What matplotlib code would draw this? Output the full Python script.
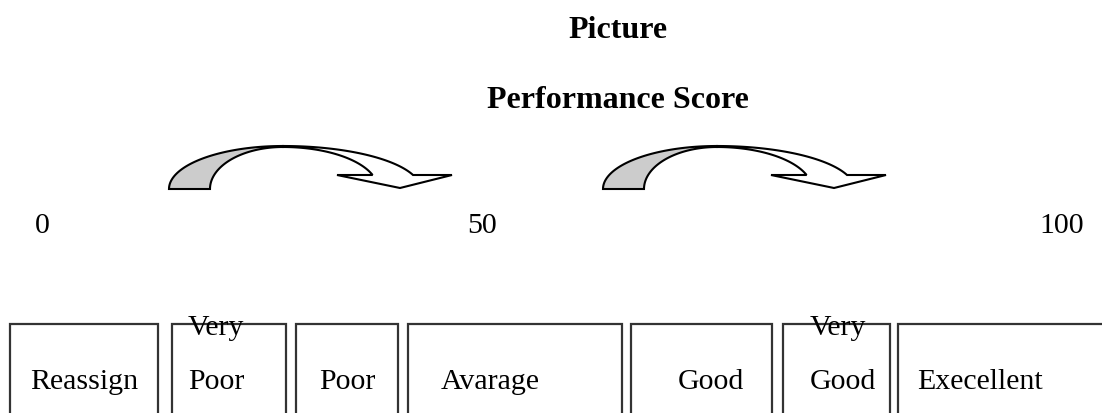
import numpy as np
import matplotlib.pyplot as plt
from matplotlib.patches import Polygon

plt.rcParams['font.family'] = ['Liberation Serif', 'DejaVu Serif']

title = "Picture"
subtitle = "Performance Score"
scale_labels = ["0", "50", "100"]
categories = ["Reassign", "Very Poor", "Poor", "Avarage", "Good", "Very Good", "Execellent"]

# layout (pixels)
scale_x = [42, 482, 1062]
box_edges = [(10, 158), (172, 286), (296, 398), (408, 622), (631, 772), (783, 890), (898, 1110)]
label_x = [84, 188, 347, 490, 711, 810, 980]
arrow_x = [169, 603]


def curved_arrow(ax, x0):
    cx = x0 + 114
    base = 190
    # grey back face
    t = np.linspace(np.pi, np.pi / 2, 60)
    outer = np.c_[cx + 114 * np.cos(t), base - 43 * np.sin(t)]
    inner = np.c_[cx + 73 * np.cos(t[::-1]), base - 42 * np.sin(t[::-1])]
    ax.add_patch(Polygon(np.vstack([outer, inner]), closed=True,
                         facecolor='#cccccc', edgecolor='black', lw=1.5))
    # white front face with head
    th = np.arcsin(14 / 43)
    t1 = np.linspace(np.pi / 2, th, 60)
    outer = np.c_[cx + 137.5 * np.cos(t1), base - 43 * np.sin(t1)]
    th2 = np.arcsin(14 / 42)
    t2 = np.linspace(th2, np.pi / 2, 60)
    inner = np.c_[cx + 95 * np.cos(t2), base - 42 * np.sin(t2)]
    head = np.array([[cx + 169, 176], [cx + 117, 189], [cx + 54, 176]])
    pts = np.vstack([outer, head, inner])
    ax.add_patch(Polygon(pts, closed=True, facecolor='white',
                         edgecolor='black', lw=1.5, joinstyle='miter'))


fig = plt.figure(figsize=(11.02, 4.14), dpi=100)
ax = fig.add_axes([0, 0, 1, 1])
ax.set_xlim(0, 1102)
ax.set_ylim(414, 0)
ax.axis('off')

ax.text(618, 38, title, ha='center', va='baseline', fontsize=23, fontweight='bold')
ax.text(618, 108, subtitle, ha='center', va='baseline', fontsize=23, fontweight='bold')

for x0 in arrow_x:
    curved_arrow(ax, x0)

for x, lab in zip(scale_x, scale_labels):
    ax.text(x, 233, lab, ha='center', va='baseline', fontsize=21.5)

for (l, r), x, lab in zip(box_edges, label_x, categories):
    ax.plot([l, l, r, r], [420, 325, 325, 420], color='#333333', lw=1.6,
            solid_joinstyle='miter')
    if lab.startswith("Very "):
        ax.text(x, 335, "Very", ha='left', va='baseline', fontsize=21.5)
        ax.text(x, 389, lab[5:], ha='left', va='baseline', fontsize=21.5)
    else:
        ax.text(x, 389, lab, ha='center', va='baseline', fontsize=21.5)

fig.savefig('out.png', dpi=100)
